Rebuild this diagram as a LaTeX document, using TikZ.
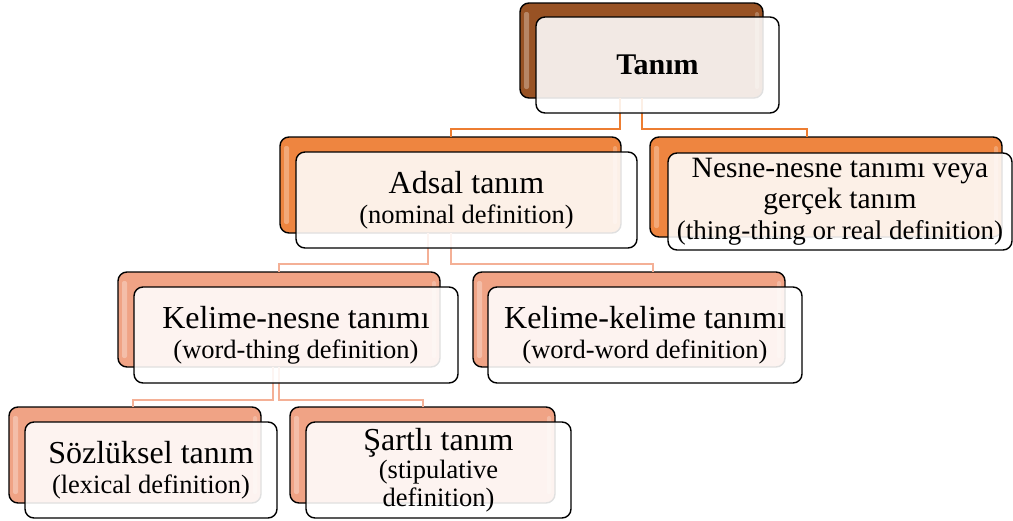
\documentclass[tikz,border=0pt]{standalone}
\usepackage{fontspec}
\setmainfont{Liberation Serif}
\usetikzlibrary{calc}
\definecolor{brownC}{HTML}{985224}
\definecolor{orangeC}{HTML}{EE8540}
\definecolor{salmonC}{HTML}{F0A385}
\definecolor{lineA}{HTML}{ED7D31}
\definecolor{lineB}{HTML}{F4B096}
\newcommand\bigtxt{\fontsize{32}{31}\selectfont}
\newcommand\midtxt{\fontsize{29.5}{31}\selectfont}
\tikzset{
 backbox/.style={draw=black, line width=1.4pt, rounded corners=9pt, anchor=north west, inner sep=0pt, outer sep=0pt,
   path picture={
     \fill[white,opacity=.3,rounded corners=2pt] ([xshift=4pt,yshift=-9pt]path picture bounding box.north west) rectangle ([xshift=9pt,yshift=9pt]path picture bounding box.south west);
     \fill[white,opacity=.25,rounded corners=2pt] ([xshift=-4pt,yshift=-9pt]path picture bounding box.north east) rectangle ([xshift=-8pt,yshift=9pt]path picture bounding box.south east);
   }},
 frontbox/.style={draw=black, line width=1.4pt, rounded corners=9pt, fill=white, fill opacity=.88, text opacity=1, draw opacity=1, anchor=north west, inner sep=2pt, outer sep=0pt, align=center, font=\fontsize{26.5}{30}\selectfont},
 connA/.style={draw=lineA, line width=2pt},
 connB/.style={draw=lineB, line width=2pt},
}
\begin{document}
\begin{tikzpicture}[x=1pt,y=-1pt]
\useasboundingbox (0,0) rectangle (1013,520);
% back boxes
\node[backbox, fill=brownC, minimum width=243pt, minimum height=95pt] (tB) at (520,3) {};
\node[backbox, fill=orangeC, minimum width=341pt, minimum height=96pt] (aB) at (280,137) {};
\node[backbox, fill=orangeC, minimum width=352pt, minimum height=100pt] (nB) at (650,137) {};
\node[backbox, fill=salmonC, minimum width=322pt, minimum height=95pt] (kB) at (118,272) {};
\node[backbox, fill=salmonC, minimum width=312pt, minimum height=95pt] (kkB) at (473,272) {};
\node[backbox, fill=salmonC, minimum width=252pt, minimum height=96pt] (sB) at (9,407) {};
\node[backbox, fill=salmonC, minimum width=265pt, minimum height=96pt] (pB) at (290,407) {};
% connectors
\draw[connA] ([xshift=-22pt]tB.south) |- ([yshift=8pt]aB.north) -- (aB.north);
\draw[connA] (tB.south) |- ([xshift=-19pt,yshift=8pt]nB.north) -- ([xshift=-19pt]nB.north);
\draw[connB] ([xshift=-23pt]aB.south) |- ([yshift=8pt]kB.north) -- (kB.north);
\draw[connB] (aB.south) |- ([xshift=24pt,yshift=8pt]kkB.north) -- ([xshift=24pt]kkB.north);
\draw[connB] ([xshift=-6pt]kB.south) |- ([xshift=-2pt,yshift=7pt]sB.north) -- ([xshift=-2pt]sB.north);
\draw[connB] (kB.south) |- ([yshift=7pt]pB.north) -- (pB.north);
% front boxes
\node[frontbox, minimum width=243pt, minimum height=96pt] (tF) at (536,17) {\fontsize{30}{30}\selectfont\bfseries Tanım};
\node[frontbox, minimum width=341pt, minimum height=96pt] (aF) at (296,152) {{\bigtxt Adsal tanım}\\(nominal definition)};
\node[frontbox, minimum width=344pt, minimum height=97pt, font=\fontsize{27}{31}\selectfont] (nF) at (668,153) {{\midtxt Nesne-nesne tanımı veya}\\{\midtxt gerçek tanım}\\(thing-thing or real definition)};
\node[frontbox, minimum width=324pt, minimum height=96pt] (kF) at (134,287) {{\bigtxt Kelime-nesne tanımı}\\(word-thing definition)};
\node[frontbox, minimum width=314pt, minimum height=96pt] (kkF) at (488,287) {{\bigtxt Kelime-kelime tanımı}\\(word-word definition)};
\node[frontbox, minimum width=252pt, minimum height=96pt] (sF) at (25,422) {{\bigtxt Sözlüksel tanım}\\(lexical definition)};
\node[frontbox, minimum width=265pt, minimum height=96pt, font=\fontsize{26.5}{28}\selectfont] (pF) at (306,422) {{\bigtxt Şartlı tanım}\\(stipulative\\definition)};
\end{tikzpicture}
\end{document}
